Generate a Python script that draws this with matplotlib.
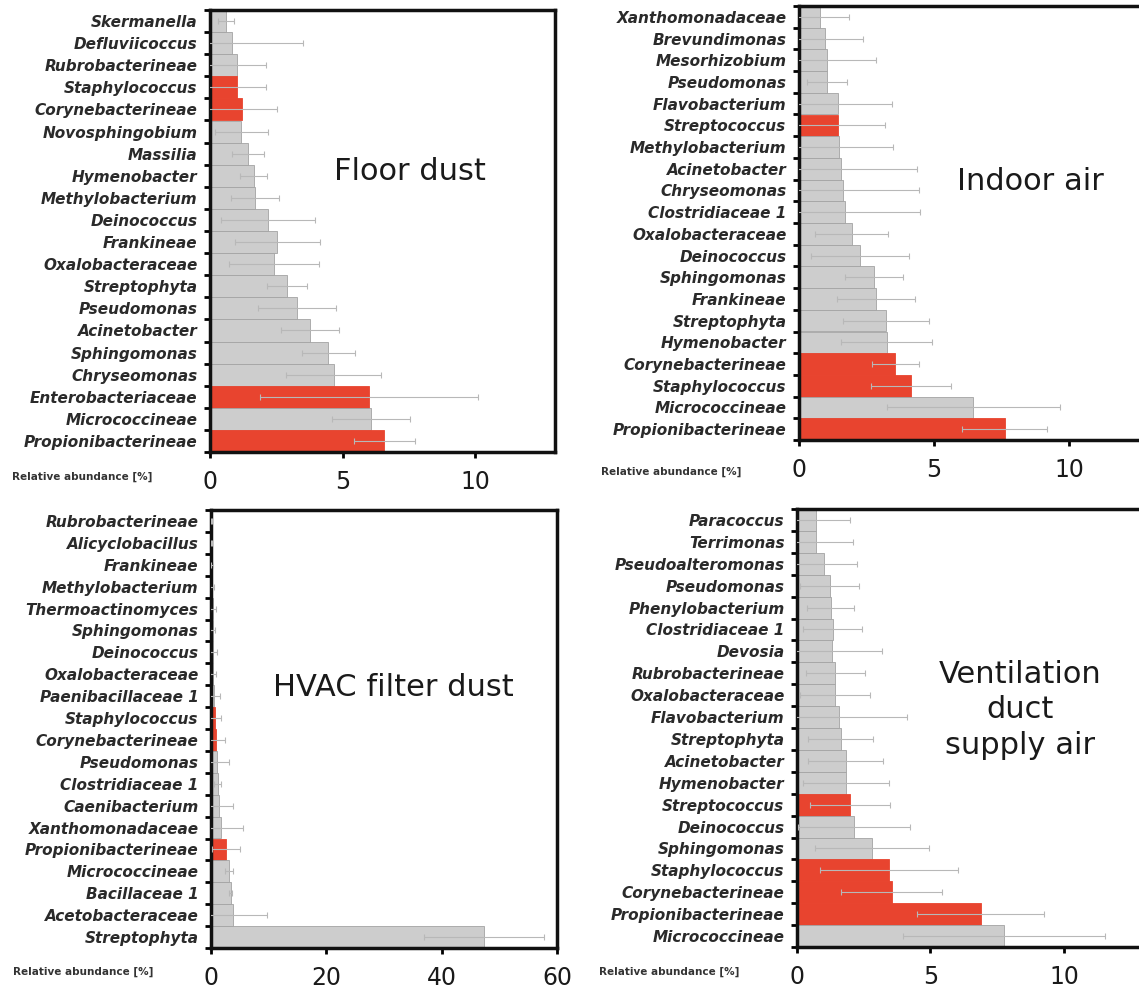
import matplotlib
matplotlib.use("Agg")
import matplotlib.pyplot as plt
import numpy as np

plt.rcParams['font.family'] = ['DejaVu Sans']

# ---------------- data ----------------
floor_taxa = ["Skermanella", "Defluviicoccus", "Rubrobacterineae", "Staphylococcus",
              "Corynebacterineae", "Novosphingobium", "Massilia", "Hymenobacter",
              "Methylobacterium", "Deinococcus", "Frankineae", "Oxalobacteraceae",
              "Streptophyta", "Pseudomonas", "Acinetobacter", "Sphingomonas",
              "Chryseomonas", "Enterobacteriaceae", "Micrococcineae", "Propionibacterineae"]
floor_vals = [0.6, 0.82, 1.02, 1.02, 1.22, 1.18, 1.42, 1.64, 1.71, 2.2, 2.54, 2.41,
              2.9, 3.29, 3.77, 4.46, 4.66, 5.98, 6.07, 6.57]
floor_err = [0.3, 2.7, 1.1, 1.1, 1.3, 1.0, 0.6, 0.5, 0.9, 1.77, 1.6, 1.7,
             0.77, 1.47, 1.08, 1.0, 1.78, 4.1, 1.46, 1.15]
floor_red = ["Staphylococcus", "Corynebacterineae", "Enterobacteriaceae", "Propionibacterineae"]

indoor_taxa = ["Xanthomonadaceae", "Brevundimonas", "Mesorhizobium", "Pseudomonas",
               "Flavobacterium", "Streptococcus", "Methylobacterium", "Acinetobacter",
               "Chryseomonas", "Clostridiaceae 1", "Oxalobacteraceae", "Deinococcus",
               "Sphingomonas", "Frankineae", "Streptophyta", "Hymenobacter",
               "Corynebacterineae", "Staphylococcus", "Micrococcineae", "Propionibacterineae"]
indoor_vals = [0.77, 0.97, 1.03, 1.03, 1.43, 1.43, 1.49, 1.56, 1.63, 1.69, 1.96, 2.26,
               2.78, 2.86, 3.21, 3.25, 3.57, 4.14, 6.46, 7.62]
indoor_err = [1.08, 1.4, 1.83, 0.73, 2.0, 1.74, 2.0, 2.8, 2.8, 2.8, 1.35, 1.8,
              1.07, 1.44, 1.59, 1.68, 0.86, 1.48, 3.2, 1.57]
indoor_red = ["Streptococcus", "Corynebacterineae", "Staphylococcus", "Propionibacterineae"]

hvac_taxa = ["Rubrobacterineae", "Alicyclobacillus", "Frankineae", "Methylobacterium",
             "Thermoactinomyces", "Sphingomonas", "Deinococcus", "Oxalobacteraceae",
             "Paenibacillaceae 1", "Staphylococcus", "Corynebacterineae", "Pseudomonas",
             "Clostridiaceae 1", "Caenibacterium", "Xanthomonadaceae", "Propionibacterineae",
             "Micrococcineae", "Bacillaceae 1", "Acetobacteraceae", "Streptophyta"]
hvac_vals = [0.1, 0.1, 0.15, 0.2, 0.3, 0.3, 0.4, 0.4, 0.6, 0.7, 0.8, 1.0,
             1.2, 1.4, 1.8, 2.6, 3.1, 3.4, 3.9, 47.3]
hvac_err = [0.1, 0.1, 0.2, 0.3, 0.5, 0.4, 0.6, 0.5, 0.9, 1.1, 1.7, 2.1,
            0.6, 2.4, 3.8, 2.5, 0.7, 0.2, 5.8, 10.4]
hvac_red = ["Staphylococcus", "Corynebacterineae", "Propionibacterineae"]

vent_taxa = ["Paracoccus", "Terrimonas", "Pseudoalteromonas", "Pseudomonas",
             "Phenylobacterium", "Clostridiaceae 1", "Devosia", "Rubrobacterineae",
             "Oxalobacteraceae", "Flavobacterium", "Streptophyta", "Acinetobacter",
             "Hymenobacter", "Streptococcus", "Deinococcus", "Sphingomonas",
             "Staphylococcus", "Corynebacterineae", "Propionibacterineae", "Micrococcineae"]
vent_vals = [0.72, 0.70, 1.03, 1.23, 1.26, 1.34, 1.3, 1.43, 1.43, 1.57, 1.63, 1.83,
             1.83, 2.0, 2.14, 2.81, 3.45, 3.55, 6.88, 7.76]
vent_err = [1.25, 1.4, 1.2, 1.1, 0.88, 1.1, 1.87, 1.1, 1.3, 2.54, 1.2, 1.4,
            1.6, 1.5, 2.1, 2.13, 2.57, 1.9, 2.38, 3.78]
vent_red = ["Staphylococcus", "Corynebacterineae", "Propionibacterineae", "Streptococcus"]

W, H = 1139, 991

def rect(l, r, t, b):
    return [l / W, 1 - b / H, (r - l) / W, (b - t) / H]

panels = [
    dict(taxa=floor_taxa, vals=floor_vals, err=floor_err, red=floor_red,
         title="Floor dust", xlim=13, xticks=[0, 5, 10],
         rect=rect(210, 555, 10, 452), tpix=(410, 172), lab_y=477),
    dict(taxa=indoor_taxa, vals=indoor_vals, err=indoor_err, red=indoor_red,
         title="Indoor air", xlim=13, xticks=[0, 5, 10],
         rect=rect(799, 1150, 6, 440), tpix=(1030, 182), lab_y=472),
    dict(taxa=hvac_taxa, vals=hvac_vals, err=hvac_err, red=hvac_red,
         title="HVAC filter dust", xlim=60, xticks=[0, 20, 40, 60],
         rect=rect(211, 557, 510, 948), tpix=(393, 687), lab_y=972),
    dict(taxa=vent_taxa, vals=vent_vals, err=vent_err, red=vent_red,
         title="Ventilation\nduct\nsupply air", xlim=13, xticks=[0, 5, 10],
         rect=rect(797, 1144, 509, 947), tpix=(1020, 710), lab_y=972),
]

GRAY = "#cdcdcd"
GRAY_EDGE = "#a3a3a3"
RED = "#e8442f"

fig = plt.figure(figsize=(W / 100, H / 100), dpi=100)

for p in panels:
    ax = fig.add_axes(p["rect"])
    n = len(p["taxa"])
    y = np.arange(n)
    colors = [RED if t in p["red"] else GRAY for t in p["taxa"]]
    edges = [RED if t in p["red"] else GRAY_EDGE for t in p["taxa"]]
    ax.barh(y, p["vals"], height=1.0, color=colors, edgecolor=edges, linewidth=0.6, zorder=2)
    ax.errorbar(p["vals"], y, xerr=p["err"], fmt="none", ecolor="#b8b8b8",
                elinewidth=0.8, capsize=2.5, capthick=0.8, zorder=3)
    ax.set_ylim(n - 0.5, -0.5)
    ax.set_xlim(0, p["xlim"])
    ax.set_yticks(np.arange(n + 1) - 0.5)
    ax.set_yticklabels([])
    ax.set_yticks(y, minor=True)
    ax.set_yticklabels(p["taxa"], minor=True, fontsize=11, fontweight="bold",
                       fontstyle="italic", color="#2a2a2a")
    ax.tick_params(axis="y", which="major", direction="out", length=4, width=2)
    ax.tick_params(axis="y", which="minor", length=0, pad=9)
    ax.set_xticks(p["xticks"])
    ax.set_xticklabels([str(v) for v in p["xticks"]], fontsize=17, color="#1a1a1a")
    ax.tick_params(axis="x", direction="out", length=4, width=2, pad=9)
    for s in ax.spines.values():
        s.set_linewidth(2.5)
        s.set_color("#111111")
    fig.text(p["tpix"][0] / W, 1 - p["tpix"][1] / H, p["title"],
             ha="center", va="center", fontsize=22, color="#1a1a1a",
             linespacing=1.3)
    x0 = p["rect"][0] * W
    fig.text((x0 - 58) / W, 1 - p["lab_y"] / H, "Relative abundance [%]",
             ha="right", va="center", fontsize=7.5, fontweight="bold", color="#333333")

fig.savefig("out.png", dpi=100)
